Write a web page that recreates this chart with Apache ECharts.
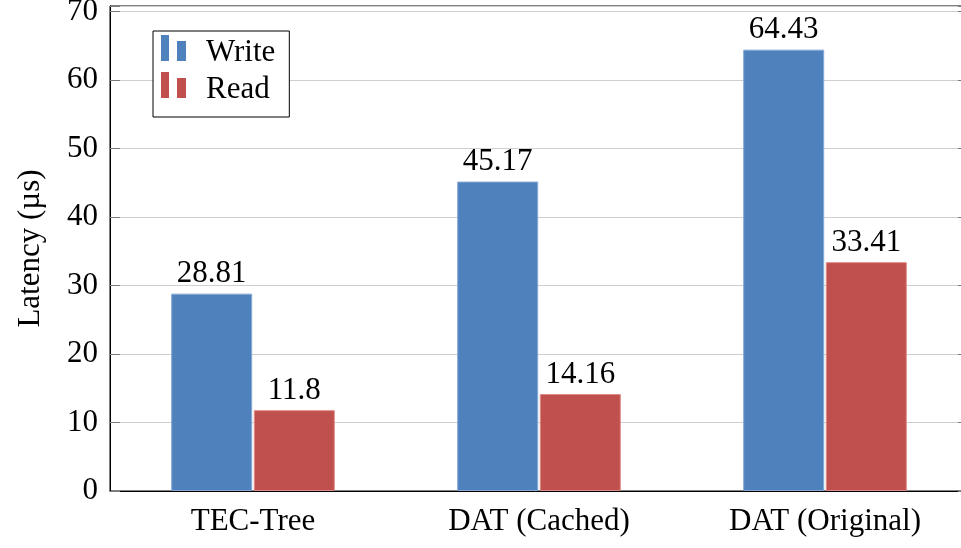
<!DOCTYPE html>
<html>
<head>
<meta charset="utf-8">
<script src="https://cdn.jsdelivr.net/npm/echarts@6/dist/echarts.min.js"></script>
<style>html,body{margin:0;padding:0;background:#fff;}#c{width:961px;height:548px;}</style>
</head>
<body>
<div id="c"></div>
<script>
var categories = ['TEC-Tree', 'DAT (Cached)', 'DAT (Original)'];
var writeValues = [28.81, 45.17, 64.43];
var readValues = [11.8, 14.16, 33.41];
var yTicks = [0, 10, 20, 30, 40, 50, 60, 70];

var FONT = '"Liberation Serif", "Times New Roman", serif';
var chart = echarts.init(document.getElementById('c'), null, {renderer: 'canvas'});
var legendIcon = 'path://M0,0 L8,0 L8,26 L0,26 Z M16,6 L25,6 L25,26 L16,26 Z M0,36 L0.01,36 L0,36 Z';

chart.setOption({
  animation: false,
  backgroundColor: '#fff',
  textStyle: {fontFamily: FONT},
  grid: {left: 110, top: 6, width: 858, height: 485, show: true, borderColor: '#000', borderWidth: 1,
    containLabel: false, outerBoundsMode: 'none'},
  legend: {
    orient: 'vertical',
    left: 153, top: 31,
    padding: [4, 14, 9, 8],
    itemGap: 1,
    itemWidth: 25, itemHeight: 36,
    itemStyle: {borderWidth: 0},
    borderColor: '#000', borderWidth: 1,
    backgroundColor: '#fff',
    textStyle: {fontFamily: FONT, fontSize: 31, color: '#000', padding: [6, 0, 0, 15]},
    data: [{name: 'Write', icon: legendIcon}, {name: 'Read', icon: legendIcon}]
  },
  xAxis: {
    type: 'category',
    data: categories,
    axisLine: {lineStyle: {color: '#000', width: 1}},
    axisTick: {show: false},
    axisLabel: {fontFamily: FONT, fontSize: 31, color: '#000', margin: 15}
  },
  yAxis: [{
    type: 'value',
    min: yTicks[0], max: 70.8, interval: 10,
    name: 'Latency (µs)',
    nameLocation: 'middle',
    nameGap: 64,
    nameRotate: 90,
    nameTextStyle: {fontFamily: FONT, fontSize: 31, color: '#000'},
    axisLine: {show: true, lineStyle: {color: '#000', width: 1}},
    axisTick: {show: true, inside: true, length: 10, lineStyle: {color: '#7a7a7a'}},
    axisLabel: {fontFamily: FONT, fontSize: 31, color: '#000', margin: 12,
      formatter: function (v) { return yTicks.indexOf(v) >= 0 ? String(v) : ''; }},
    splitLine: {show: true, lineStyle: {color: '#cfcfcf', width: 1}}
  }, {
    type: 'value',
    position: 'right',
    min: yTicks[0], max: 70.8, interval: 10,
    axisLine: {show: false},
    axisTick: {show: true, inside: true, length: 10, lineStyle: {color: '#7a7a7a'}},
    axisLabel: {show: false},
    splitLine: {show: false}
  }],
  series: [{
    name: 'Write', type: 'bar', data: writeValues,
    barWidth: 81, barGap: '2%',
    itemStyle: {color: '#4F81BD', borderColor: '#86a8d6', borderWidth: 1},
    label: {show: true, position: 'top', distance: 4, fontFamily: FONT, fontSize: 31, color: '#000'}
  }, {
    name: 'Read', type: 'bar', data: readValues,
    barWidth: 81, barGap: '2%',
    itemStyle: {color: '#C0504D', borderColor: '#e08a88', borderWidth: 1},
    label: {show: true, position: 'top', distance: 4, fontFamily: FONT, fontSize: 31, color: '#000'}
  }]
});
</script>
</body>
</html>
